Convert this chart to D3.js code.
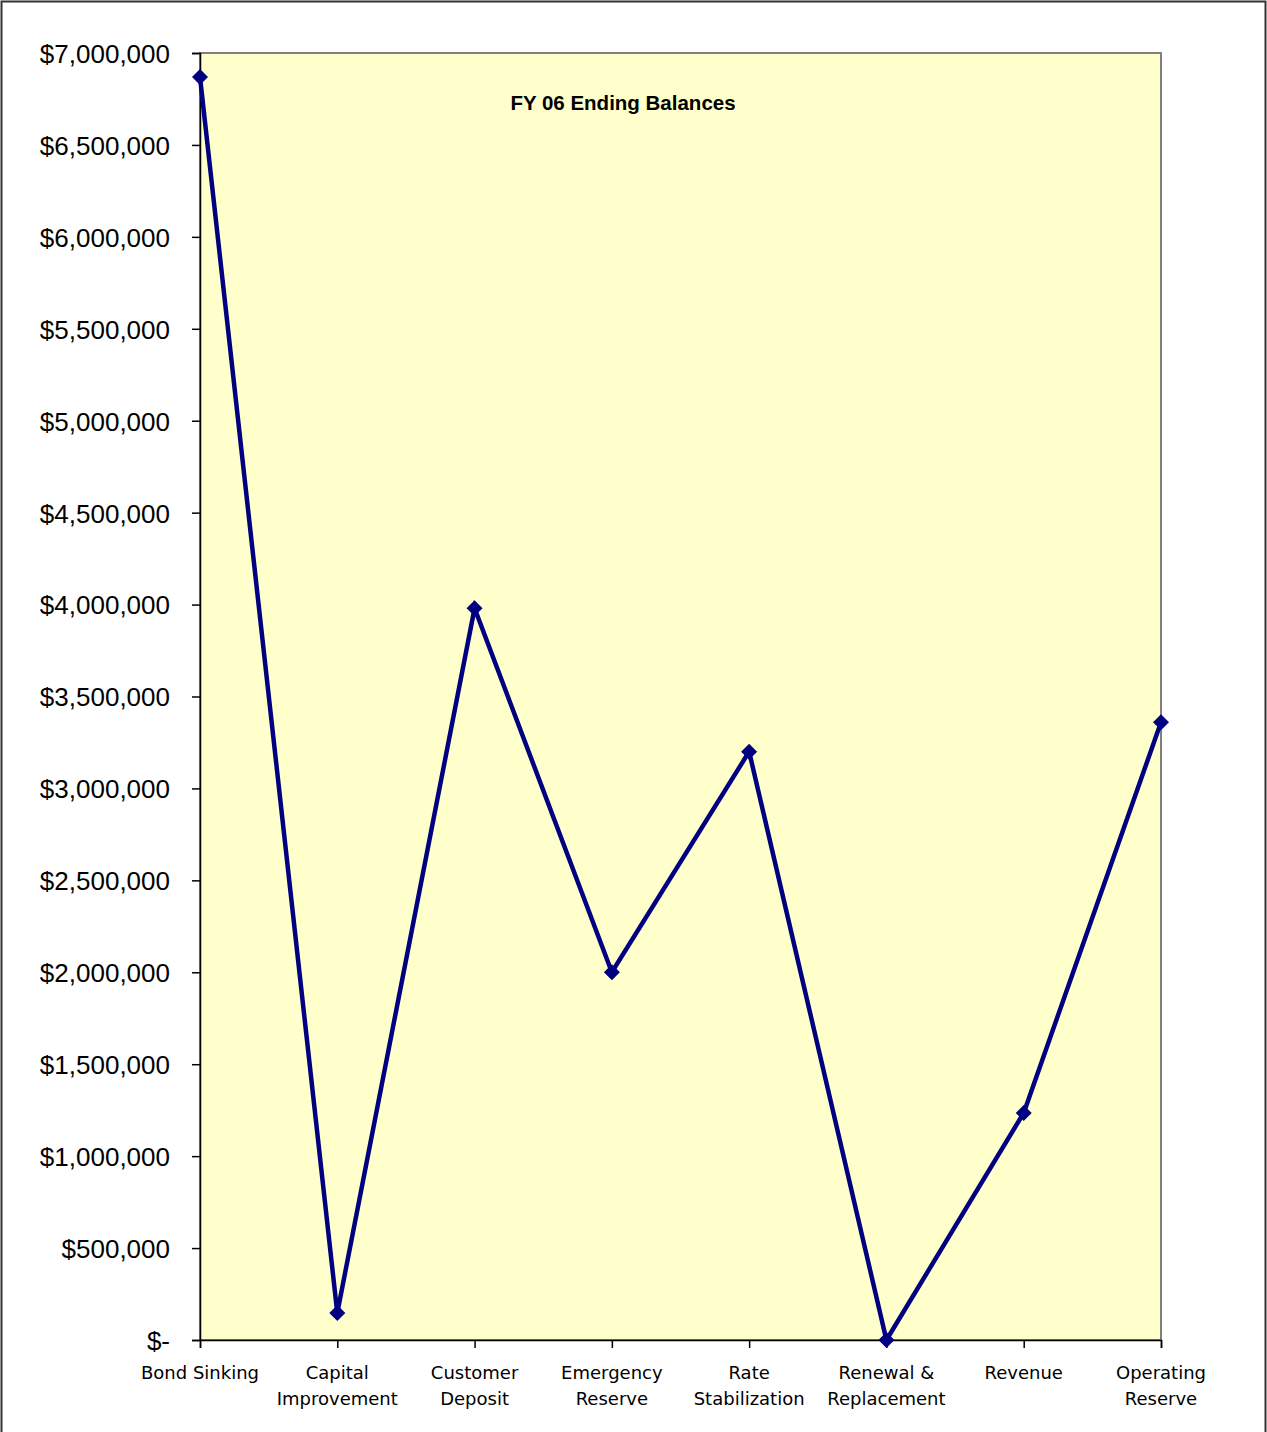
<!DOCTYPE html>
<html>
<head>
<meta charset="utf-8">
<script src="https://cdn.jsdelivr.net/npm/d3@7"></script>
<style>
  body { margin: 0; background: #fff; }
  svg { display: block; }
  .y-axis text { font-family: "Liberation Sans", Arial, sans-serif; font-size: 26px; fill: #000; }
  .x-label { font-family: "DejaVu Sans", Tahoma, sans-serif; font-size: 18px; fill: #000; }
  .title { font-family: "Liberation Sans", Arial, sans-serif; font-size: 20.5px; font-weight: bold; }
</style>
</head>
<body>
<svg id="chart" width="1267" height="1432"></svg>
<script>
// data
const categories = [
  ["Bond Sinking"],
  ["Capital", "Improvement"],
  ["Customer", "Deposit"],
  ["Emergency", "Reserve"],
  ["Rate", "Stabilization"],
  ["Renewal &", "Replacement"],
  ["Revenue"],
  ["Operating", "Reserve"],
];
const balances = [6870000, 147000, 3980000, 2000000, 3200000, 0, 1235000, 3360000];
const yTicks = [0, 500000, 1000000, 1500000, 2000000, 2500000, 3000000, 3500000,
  4000000, 4500000, 5000000, 5500000, 6000000, 6500000, 7000000];
const chartTitle = "FY 06 Ending Balances";

const dms = { width: 1267, height: 1432, marginTop: 53, marginLeft: 200, marginRight: 106, marginBottom: 92 };
dms.boundedWidth = dms.width - dms.marginLeft - dms.marginRight;
dms.boundedHeight = dms.height - dms.marginTop - dms.marginBottom;

const svg = d3.select("#chart");

// outer frame
svg.append("rect")
  .attr("x", 1.5).attr("y", 1.5)
  .attr("width", dms.width - 3).attr("height", dms.height + 10)
  .attr("fill", "#fff").attr("stroke", "#333").attr("stroke-width", 2);

const bounds = svg.append("g")
  .attr("transform", `translate(${dms.marginLeft},${dms.marginTop})`);

const xScale = d3.scalePoint()
  .domain(d3.range(categories.length))
  .range([0, dms.boundedWidth]);

const yScale = d3.scaleLinear()
  .domain([0, 7000000])
  .range([dms.boundedHeight, 0]);

// plot area
bounds.append("rect")
  .attr("width", dms.boundedWidth)
  .attr("height", dms.boundedHeight)
  .attr("fill", "#ffffcc")
  .attr("stroke", "#808080")
  .attr("stroke-width", 2);

// y axis
const fmt = (d) => d === 0 ? "$-" : "$" + d3.format(",")(d);
const yAxis = bounds.append("g")
  .attr("class", "y-axis")
  .call(d3.axisLeft(yScale).tickValues(yTicks).tickFormat(fmt).tickSize(8).tickPadding(22));
yAxis.select(".domain").attr("stroke", "#000").attr("stroke-width", 1.5);
yAxis.selectAll(".tick line").attr("stroke", "#000").attr("stroke-width", 1.5);
yAxis.selectAll("text").attr("dy", "0.36em");

// x axis
const xAxis = bounds.append("g")
  .attr("transform", `translate(0,${dms.boundedHeight})`)
  .call(d3.axisBottom(xScale).tickSize(8).tickFormat(""));
xAxis.select(".domain").attr("stroke", "#000").attr("stroke-width", 1.5);
xAxis.selectAll(".tick line").attr("stroke", "#000").attr("stroke-width", 1.5);

const labels = bounds.selectAll(".x-label")
  .data(categories)
  .enter()
  .append("text")
  .attr("class", "x-label")
  .attr("text-anchor", "middle")
  .attr("x", (d, i) => xScale(i))
  .attr("y", dms.boundedHeight + 39);
labels.selectAll("tspan")
  .data((d) => d)
  .enter()
  .append("tspan")
  .attr("x", function () { return d3.select(this.parentNode).attr("x"); })
  .attr("dy", (d, i) => i === 0 ? 0 : 26)
  .text((d) => d);

// line
const lineGenerator = d3.line()
  .x((d, i) => xScale(i))
  .y((d) => yScale(d));

bounds.append("path")
  .attr("d", lineGenerator(balances))
  .attr("fill", "none")
  .attr("stroke", "#000080")
  .attr("stroke-width", 4.5)
  .attr("stroke-linejoin", "miter");

// markers
bounds.selectAll(".dot")
  .data(balances)
  .enter()
  .append("path")
  .attr("d", "M0,-8L8,0L0,8L-8,0Z")
  .attr("transform", (d, i) => `translate(${xScale(i)},${yScale(d)})`)
  .attr("fill", "#000080");

// title
bounds.append("text")
  .attr("class", "title")
  .attr("x", 423)
  .attr("y", 57)
  .attr("text-anchor", "middle")
  .text(chartTitle);
</script>
</body>
</html>
